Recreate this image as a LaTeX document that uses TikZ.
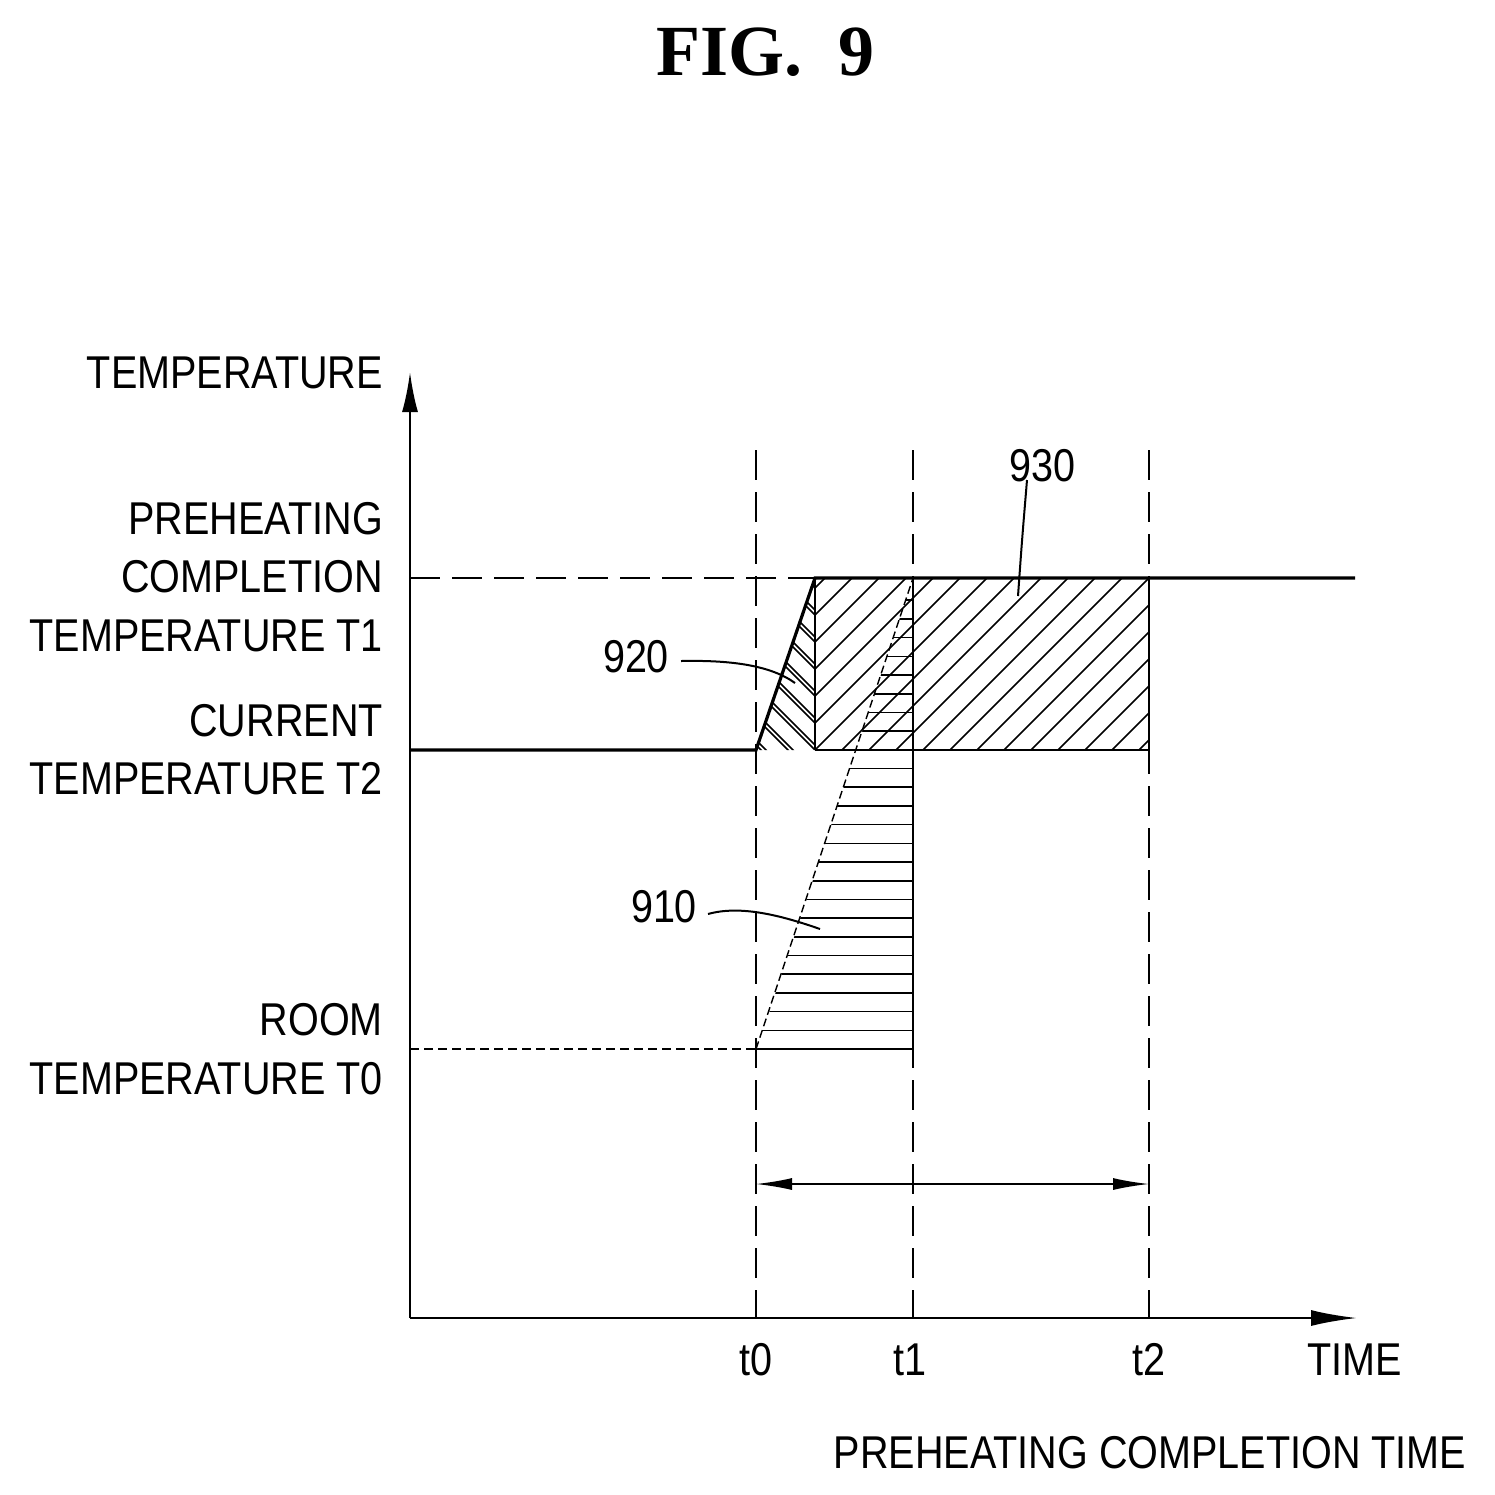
\documentclass[tikz,border=0pt]{standalone}
\usepackage{fontspec}
\setmainfont{Liberation Sans}
\newfontfamily\serifb{Liberation Serif}
\usetikzlibrary{arrows.meta}
\begin{document}
\begin{tikzpicture}[x=1pt,y=-1pt,
 lbl/.style={font=\fontsize{46}{50}\selectfont,xscale=0.86,inner sep=0},
 lbll/.style={lbl,anchor=east},
 tdash/.style={line width=2pt,dash pattern=on 30pt off 12pt},
 thick2/.style={line width=3.2pt},
 hatch/.style={line width=1.6pt}]
\useasboundingbox (0,0) rectangle (1495,1494);
\node[font=\serifb\bfseries\fontsize{72}{76}\selectfont] (title) at (765,52) {FIG.\ \ 9};
% axes
\coordinate (O) at (410,1318);
\coordinate (ytop) at (410,372);
\coordinate (xend) at (1357,1318);
\draw[line width=2.4pt,-{Latex[length=40pt,width=16pt]}] (O) -- (ytop);
\draw[line width=2.4pt,-{Latex[length=46pt,width=16pt]}] (O) -- (xend);
% vertical dashed lines
\foreach \x/\n in {756/t0,913/t1,1149/t2}{
 \coordinate (\n top) at (\x,450); \coordinate (\n bot) at (\x,1318);
 \draw[tdash] (\n top) -- (\n bot);
}
% horizontal dashed
\coordinate (a1) at (410,578); \coordinate (a2) at (815,578);
\draw[tdash] (a1) -- (a2);
\coordinate (b1) at (410,1049); \coordinate (b2) at (756,1049);
\draw[line width=1.6pt,dash pattern=on 9pt off 5pt] (b1) -- (b2);
% 930 hatch
\begin{scope}
\clip (815,578) rectangle (1149,750);
\foreach \k in {-10,...,20}{ \draw[hatch] (815+\k*27,750) -- ++(200,-200); }
\end{scope}
\draw[hatch] (1149,578) -- (1149,750);
\draw[line width=2pt] (815,750) -- (1149,750);
% 920 hatch
\begin{scope}
\clip (756,750) -- (815,578) -- (815,750) -- cycle;
\foreach \k in {-10,...,10}{ \draw[hatch] (756+\k*27,578+\k*0) ++(0,0) -- ++(250,250); }
\end{scope}
\begin{scope}
\clip (756,750) -- (815,578) -- (815,750) -- cycle;
\foreach \k in {0,...,8}{ \draw[hatch] (815,588+\k*27) -- ++(-120,-120); }
\end{scope}
\draw[hatch] (815,578) -- (815,750);
% 910 hatch
\begin{scope}
\clip (756,1052) -- (913,578) -- (915,578) -- (915,1052) -- cycle;
\foreach \k in {0,...,26}{ \draw[hatch] (740,1049-\k*18.7) -- (913,1049-\k*18.7); }
\end{scope}
\draw[hatch] (913,578) -- (913,1049);
\draw[line width=1.4pt,dash pattern=on 8pt off 4pt] (756,1049) -- (913,578);
% main curve
\coordinate (c0) at (410,750); \coordinate (c1) at (756,750);
\coordinate (c2) at (815,578); \coordinate (c3) at (1355,578);
\draw[thick2] (c0) -- (c1) -- (c2) -- (c3);
% double arrow
\coordinate (d1) at (756,1184); \coordinate (d2) at (1149,1184);
\draw[line width=1.6pt,{Latex[length=36pt,width=12pt]}-{Latex[length=36pt,width=12pt]}] (d1) -- (d2);
% labels
\node[lbll] (lt) at (383,373) {TEMPERATURE};
\node[lbll] (lp1) at (383,519) {PREHEATING};
\node[lbll] (lp2) at (383,577) {COMPLETION};
\node[lbll] (lp3) at (383,636) {TEMPERATURE T1};
\node[lbll] (lc1) at (383,721) {CURRENT};
\node[lbll] (lc2) at (383,779) {TEMPERATURE T2};
\node[lbll] (lr1) at (383,1020) {ROOM};
\node[lbll] (lr2) at (383,1079) {TEMPERATURE T0};
\node[lbl] (nt0) at (756,1360) {t0};
\node[lbl] (nt1) at (910,1360) {t1};
\node[lbl] (nt2) at (1149,1360) {t2};
\node[lbl] (ntime) at (1355,1360) {TIME};
\node[lbl] (npct) at (1150,1453) {PREHEATING COMPLETION TIME};
\node[lbl] (n930) at (1042,466) {930};
\node[lbl] (n920) at (636,657) {920};
\node[lbl] (n910) at (664,907) {910};
\coordinate (e930) at (1018,596);
\coordinate (e920) at (795,683);
\coordinate (e910) at (820,929);
\draw[line width=2pt] (1027,480) .. controls (1022,540) .. (e930);
\draw[line width=2pt] (681,661) .. controls (730,660) and (770,665) .. (e920);
\draw[line width=2pt] (708,914) .. controls (740,905) and (780,915) .. (e910);
\end{tikzpicture}
\end{document}
